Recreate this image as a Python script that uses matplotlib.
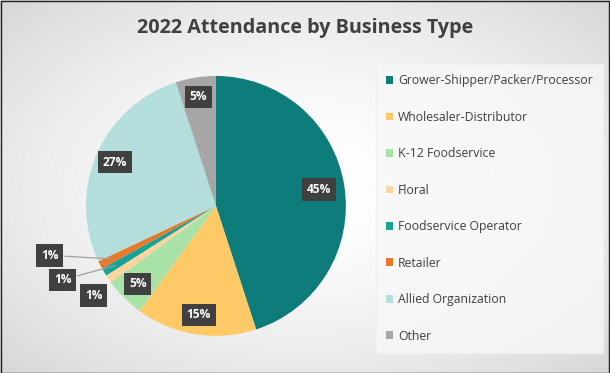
import numpy as np
import matplotlib.pyplot as plt
from matplotlib.patches import Rectangle

categories = ['Grower-Shipper/Packer/Processor', 'Wholesaler-Distributor', 'K-12 Foodservice',
              'Floral', 'Foodservice Operator', 'Retailer', 'Allied Organization', 'Other']
shares = [45, 15, 5, 1, 1, 1, 27, 5]
labels = ['45%', '15%', '5%', '1%', '1%', '1%', '27%', '5%']
colors = ['#0E7C7B', '#FFC966', '#A9E2A6', '#FDD49C', '#17A398', '#E8782A', '#B3DEDB', '#A6A6A6']

plt.rcParams['font.family'] = ['Open Sans', 'DejaVu Sans']

fig = plt.figure(figsize=(6.1, 3.73), dpi=100)

# radial grey background
bg = fig.add_axes([0, 0, 1, 1], zorder=-10)
yy, xx = np.mgrid[-1:1:300j, -1:1:400j]
rr = np.sqrt(xx**2 + yy**2) / np.sqrt(2)
bg.imshow(1 - 0.16 * rr**1.6, cmap='gray', vmin=0, vmax=1, aspect='auto', extent=[0, 1, 0, 1])
bg.axis('off')
fig.patches.append(Rectangle((0.001, 0.001), 0.997, 0.996, transform=fig.transFigure,
                             fill=False, edgecolor='#202020', linewidth=1.0))

fig.text(0.5, 0.925, '2022 Attendance by Business Type', ha='center', va='center',
         fontsize=14.2, fontweight='bold', color='#404040')

ax = fig.add_axes([0.354 - 0.213, 0.448 - 0.3485, 0.426, 0.697])
wedges, _ = ax.pie(shares, colors=colors, startangle=90, counterclock=False,
                   wedgeprops=dict(linewidth=0))
ax.set_xlim(-1, 1)
ax.set_ylim(-1, 1)
ax.set_aspect('equal')

box = dict(boxstyle='square,pad=0.4', facecolor='#404040', edgecolor='none')
small = {3: (-0.94, -0.69), 4: (-1.18, -0.57), 5: (-1.28, -0.38)}
for i, w in enumerate(wedges):
    ang = np.deg2rad((w.theta1 + w.theta2) / 2)
    if i in small:
        pos = small[i]
        if i in (4, 5):
            ax.annotate('', xy=(0.9 * np.cos(ang), 0.9 * np.sin(ang)), xytext=pos,
                        arrowprops=dict(arrowstyle='-', color='#A0A0A0', lw=0.9,
                                        shrinkA=11, shrinkB=0))
    else:
        r = 0.8 if i == 0 else 0.85
        pos = (r * np.cos(ang), r * np.sin(ang))
    ax.text(pos[0], pos[1], labels[i], ha='center', va='center', fontsize=8.6,
            fontweight='bold', color='white', bbox=box, zorder=5)

leg = fig.legend(wedges, categories, loc='upper left', bbox_to_anchor=(0.606, 0.845),
                 fontsize=8.8, frameon=True, fancybox=False, handlelength=0.6,
                 handleheight=0.6, handletextpad=0.35, labelspacing=1.92,
                 borderpad=0.85, labelcolor='#404040')
leg.get_frame().set_facecolor('#F8F8F8')
leg.get_frame().set_edgecolor('#F0F0F0')

fig.savefig('out.png', dpi=100)
